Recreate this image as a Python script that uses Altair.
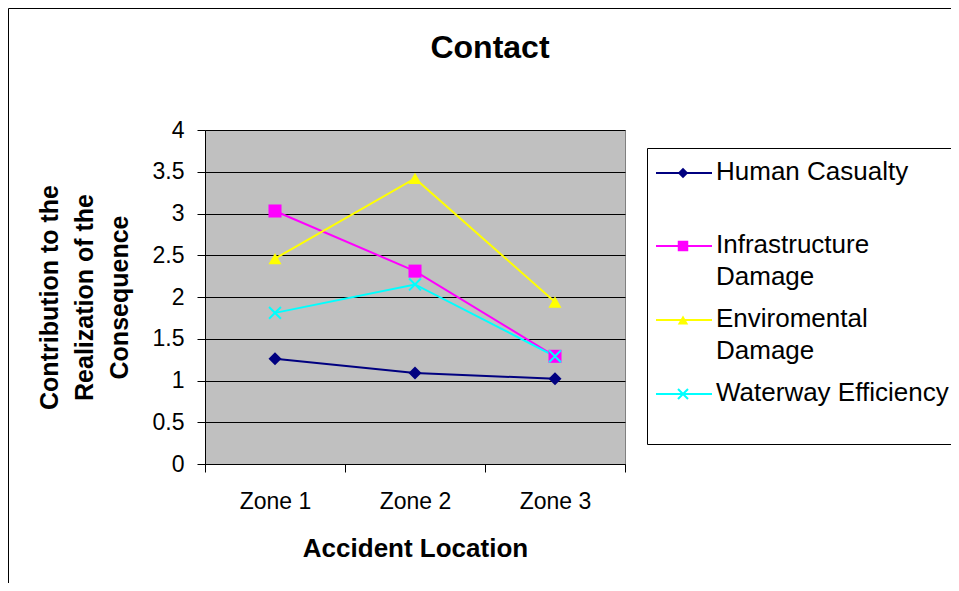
import altair as alt
import pandas as pd

# ---------------- data ----------------
zones = ["Zone 1", "Zone 2", "Zone 3"]
series = ["Human Casualty", "Infrastructure Damage", "Enviromental Damage", "Waterway Efficiency"]
human_casualty = [1.26, 1.09, 1.02]
infrastructure_damage = [3.03, 2.31, 1.29]
enviromental_damage = [2.46, 3.42, 1.94]
waterway_efficiency = [1.81, 2.15, 1.29]
y_ticks = [0, 0.5, 1, 1.5, 2, 2.5, 3, 3.5, 4]
legend_lines = [["Human Casualty"], ["Infrastructure", "Damage"], ["Enviromental", "Damage"], ["Waterway Efficiency"]]

colors = ["#000080", "#FF00FF", "#FFFF00", "#00FFFF"]
X_PATH = "M-1,-1L1,1M1,-1L-1,1"
shapes = ["diamond", "square", "triangle-up", X_PATH]

FONT = "Liberation Sans"
W, H = 420, 334

rows = []
for name, vals in zip(series, [human_casualty, infrastructure_damage, enviromental_damage, waterway_efficiency]):
    for z, v in zip(zones, vals):
        rows.append({"Zone": z, "Series": name, "Value": v})
df = pd.DataFrame(rows)

x_enc = alt.X(
    "Zone:N", sort=zones,
    scale=alt.Scale(type="band", paddingInner=0, paddingOuter=0),
    axis=alt.Axis(
        title="Accident Location", labelAngle=0, tickBand="extent", tickSize=8,
        tickColor="black", domainColor="black", labelColor="black", titleColor="black",
        labelFont=FONT, labelFontSize=23, titleFont=FONT, titleFontSize=26,
        titleFontWeight="bold", labelPadding=18, titlePadding=22, grid=False,
    ),
)
y_enc = alt.Y(
    "Value:Q",
    scale=alt.Scale(domain=[0, 4], nice=False, zero=True),
    axis=alt.Axis(
        title=["Contribution to the", "Realization of the", "Consequence"],
        values=y_ticks, format="~g", tickSize=8, tickColor="black", domainColor="black",
        labelColor="black", titleColor="black", labelFont=FONT, labelFontSize=23,
        titleFont=FONT, titleFontSize=25, titleFontWeight="bold", titleLineHeight=35,
        labelPadding=13, titlePadding=20, grid=True, gridColor="#000000", gridWidth=1,
    ),
)
color_enc = alt.Color("Series:N", scale=alt.Scale(domain=series, range=colors), legend=None)

lines = alt.Chart(df).mark_line(strokeWidth=2).encode(
    x=x_enc, y=y_enc, color=color_enc, order=alt.Order("Zone:N")
)

filled_pts = alt.Chart(df).transform_filter(
    alt.datum.Series != "Waterway Efficiency"
).mark_point(filled=True, size=170, opacity=1).encode(
    x=x_enc, y=y_enc, color=color_enc,
    shape=alt.Shape("Series:N", scale=alt.Scale(domain=series, range=shapes), legend=None),
)
x_pts = alt.Chart(df).transform_filter(
    alt.datum.Series == "Waterway Efficiency"
).mark_point(filled=False, size=140, shape=X_PATH, strokeWidth=2, opacity=1).encode(
    x=x_enc, y=y_enc, color=color_enc,
)

one = pd.DataFrame({"k": [0]})

# outer chart border
border = alt.Chart(one).mark_rect(fill="transparent", stroke="black", strokeWidth=1).encode(
    x=alt.value(-196.5), y=alt.value(-121.5), x2=alt.value(1200), y2=alt.value(1200)
)

# chart title
title = alt.Chart(one).mark_text(
    text="Contact", font=FONT, fontSize=32, fontWeight="bold", align="center", baseline="middle", color="black"
).encode(x=alt.value(285), y=alt.value(-82))

# legend
legend_layers = [
    alt.Chart(one).mark_rect(fill="white", stroke="black", strokeWidth=1).encode(
        x=alt.value(442.5), y=alt.value(18.5), x2=alt.value(900), y2=alt.value(314.5)
    )
]
entry_y = [43, 116, 190, 264]
for i, name in enumerate(series):
    yy = entry_y[i]
    legend_layers.append(
        alt.Chart(one).mark_rule(color=colors[i], strokeWidth=2).encode(
            x=alt.value(451), x2=alt.value(507), y=alt.value(yy)
        )
    )
    if i < 3:
        legend_layers.append(
            alt.Chart(one).mark_point(filled=True, shape=shapes[i], size=110, color=colors[i], opacity=1).encode(
                x=alt.value(478), y=alt.value(yy)
            )
        )
    else:
        legend_layers.append(
            alt.Chart(one).mark_point(filled=False, shape=X_PATH, size=100, color=colors[i], strokeWidth=2, opacity=1).encode(
                x=alt.value(478), y=alt.value(yy)
            )
        )
    for j, txt in enumerate(legend_lines[i]):
        legend_layers.append(
            alt.Chart(one).mark_text(
                text=txt, font=FONT, fontSize=26, align="left", baseline="middle", color="black"
            ).encode(x=alt.value(511), y=alt.value(yy - 1 + 32 * j))
        )

chart = alt.layer(
    border, title, lines, filled_pts, x_pts, *legend_layers
).properties(
    width=W, height=H,
    padding={"left": 197, "top": 122, "right": 326, "bottom": 119},
    autosize=alt.AutoSizeParams(type="none"),
    background="white",
).configure_view(
    fill="#C0C0C0", stroke="#808080", strokeWidth=1
)

chart.save("out.html", embed_options={"renderer": "svg", "actions": False})
